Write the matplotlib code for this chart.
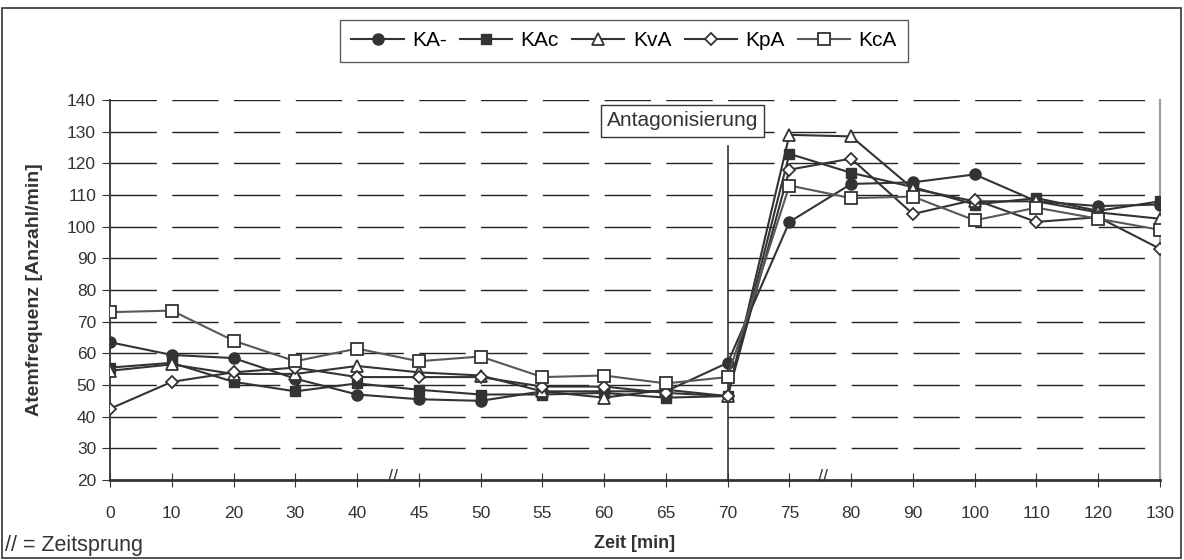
import matplotlib.pyplot as plt
import matplotlib.patches as patches
import numpy as np

plt.rcParams['font.family'] = ['Liberation Sans', 'DejaVu Sans']
plt.rcParams['lines.scale_dashes'] = False

# x axis categories (time in minutes, not evenly spaced -> category axis)
zeit = ['0', '10', '20', '30', '40', '45', '50', '55', '60', '65', '70',
        '75', '80', '90', '100', '110', '120', '130']

ka_minus = [63.5, 59.5, 58.5, 52, 47, 45.5, 45, 48, 48, 48, 57,
            101.5, 113.5, 114, 116.5, 108, 106.5, 107]
kac = [55.5, 57, 51, 48, 50.5, 48.5, 47, 47, 47.5, 46, 46.5,
       123, 117, 112.5, 107, 109, 105, 108]
kva = [54.5, 56.5, 53.5, 53.5, 56, 54, 53, 48, 46, 48.5, 46.5,
       129, 128.5, 112, 108, 108, 104.5, 102.5]
kpa = [42.5, 51, 54, 55.5, 52.5, 52.5, 52.5, 49.5, 49.5, 47.5, 46.5,
       118, 121.5, 104, 108.5, 101.5, 103, 93]
kca = [73, 73.5, 64, 57.5, 61.5, 57.5, 59, 52.5, 53, 50.5, 52.5,
       113, 109, 109.5, 102, 106, 102.5, 99]

yticks = np.arange(20, 141, 10)

fig = plt.figure(figsize=(11.84, 5.6), dpi=100)
ax = fig.add_axes([110 / 1184, 80 / 560, 1050 / 1184, 380 / 560])

x = np.arange(len(zeit))
dark = '#333333'
ax.plot(x, ka_minus, color=dark, lw=1.5, marker='o', ms=8, mfc=dark, mec=dark, label='KA-', zorder=5)
ax.plot(x, kac, color=dark, lw=1.5, marker='s', ms=7.5, mfc=dark, mec=dark, label='KAc', zorder=5)
ax.plot(x, kva, color=dark, lw=1.5, marker='^', ms=8.5, mfc='white', mec=dark, mew=1.3, label='KvA', zorder=5)
ax.plot(x, kpa, color=dark, lw=1.5, marker='D', ms=6.5, mfc='white', mec=dark, mew=1.3, label='KpA', zorder=5)
ax.plot(x, kca, color='#5e5650', lw=1.5, marker='s', ms=8, mfc='white', mec=dark, mew=1.3, label='KcA', zorder=5)

# dashed horizontal grid, dash period = one category step
step_pt = 1050 / 17 * 72 / 100
for v in yticks[1:]:
    ax.plot([0, 17], [v, v], color='#222222', lw=1.0,
            linestyle=(0, (step_pt * 0.75, step_pt * 0.25)), zorder=1)

ax.set_xlim(0, 17)
ax.set_ylim(20, 140)
ax.set_yticks(yticks)
ax.set_xticks(x)
ax.set_xticklabels(zeit)
ax.tick_params(axis='y', direction='out', length=6, labelsize=12.5, colors=dark, pad=4)
ax.tick_params(axis='x', direction='inout', length=10, labelsize=12.5, colors=dark, pad=14)

ax.spines['top'].set_visible(False)
ax.spines['right'].set_color('#a89a98')
ax.spines['right'].set_linewidth(1.5)
ax.spines['left'].set_color(dark)
ax.spines['left'].set_linewidth(1.3)
ax.spines['bottom'].set_color(dark)
ax.spines['bottom'].set_linewidth(2.0)

# time jump marks
for pos in [4.58, 11.55]:
    ax.text(pos, 20.8, '//', ha='center', va='center', fontsize=13, color=dark, zorder=6)

# antagonisation line + label
ax.plot([10, 10], [20, 125.5], color=dark, lw=1.2, zorder=4)
ax.text(9.27, 133.4, 'Antagonisierung', ha='center', va='center', fontsize=15, color=dark,
        bbox=dict(boxstyle='square,pad=0.3', fc='white', ec=dark, lw=1.0), zorder=7)

fig.text(35 / 1184, 1 - 290 / 560, 'Atemfrequenz [Anzahl/min]', rotation=90, ha='center', va='center',
         fontsize=14, fontweight='bold', color=dark)
fig.text(635 / 1184, 1 - 543 / 560, 'Zeit [min]', ha='center', va='center',
         fontsize=13, fontweight='bold', color=dark)

leg = fig.legend(loc='upper left', bbox_to_anchor=(340 / 1184, 1 - 20 / 560), ncol=5,
                 fontsize=15, frameon=True, fancybox=False, edgecolor=dark, borderaxespad=0,
                 handlelength=2.5, handletextpad=0.4, columnspacing=0.65, borderpad=0.55)
leg.get_frame().set_linewidth(1.0)

fig.text(5 / 1184, 1 - 545 / 560, '// = Zeitsprung', ha='left', va='center', fontsize=15.5, color=dark)

# outer chart frame
fig.patches.append(patches.Rectangle((2 / 1184, 2 / 560), 1179 / 1184, 550 / 560,
                                     transform=fig.transFigure, fill=False, ec=dark, lw=1.2))

fig.savefig('out.png', dpi=100)
